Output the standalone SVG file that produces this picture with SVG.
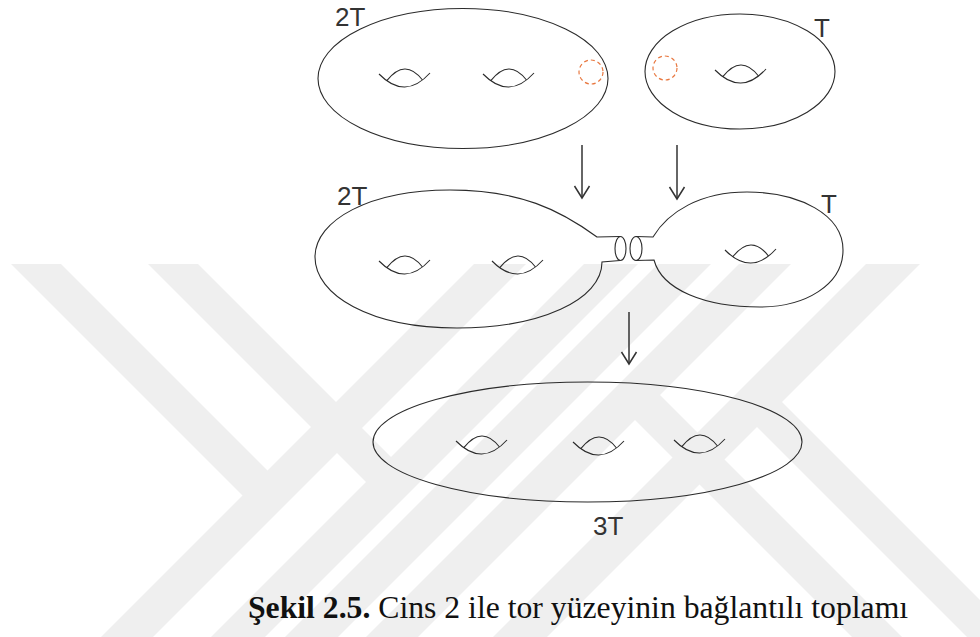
<svg xmlns="http://www.w3.org/2000/svg" xmlns:xlink="http://www.w3.org/1999/xlink" width="980" height="637" viewBox="0 0 980 637">
  <style>
    .wm { fill: #efefef; stroke: none; }
    .line { fill: none; stroke: #2b2b2b; stroke-width: 1.1; }
    .cut { fill: none; stroke: #e8773f; stroke-width: 1.2; stroke-dasharray: 4 3; }
    .arrow { fill: none; stroke: #333; stroke-width: 1.5; }
    .lbl { font-family: "Liberation Sans", Arial, sans-serif; font-size: 26px; fill: #333; }
    .cap { font-family: "Liberation Serif", "Times New Roman", serif; font-size: 31.7px; fill: #111; }
  </style>
  <defs>
    <!-- handle: lower lip with the upper arc crossing it -->
    <g id="eye" class="line">
      <path d="M0,0 Q26,26.5 51,-1"/>
      <path d="M7.8,6.7 Q26,-16.4 43.5,6"/>
    </g>
    <marker id="head" markerUnits="userSpaceOnUse" markerWidth="20" markerHeight="20" refX="0" refY="0" orient="auto" overflow="visible">
      <path d="M-12,-7.5 L0,0 L-12,7.5" fill="none" stroke="#333" stroke-width="1.5"/>
    </marker>
  </defs>

  <rect width="980" height="637" fill="#fff"/>

  <!-- background emblem made of 45-degree bands -->
  <g id="watermark" class="wm">
    <polygon points="474,264 526,264 153,637 101,637"/>
    <polygon points="584,264 638,264 265,637 211,637"/>
    <polygon points="658,264 711,264 338,637 285,637"/>
    <polygon points="739,264 791,264 418,637 366,637"/>
    <polygon points="866,264 920,264 547,637 493,637"/>
    <polygon points="11,264 61,264 280.5,483.5 255.5,508.5"/>
    <polygon points="148,264 198,264 404.5,470.5 379.5,495.5"/>
    <polygon points="647,382 902,637 852,637 622,407"/>
    <polygon points="768.5,388.5 1017,637 967,637 743.5,413.5"/>
  </g>

  <!-- genus-2 surface, top -->
  <g id="genus2-top">
    <ellipse class="line" cx="463" cy="78.5" rx="145" ry="70"/>
    <use xlink:href="#eye" x="379" y="74"/>
    <use xlink:href="#eye" x="483" y="74"/>
    <circle class="cut" cx="591" cy="72" r="12"/>
    <text class="lbl" x="335" y="25.5">2T</text>
  </g>

  <!-- torus, top -->
  <g id="torus-top">
    <ellipse class="line" cx="740" cy="71.5" rx="95" ry="57.5"/>
    <use xlink:href="#eye" x="715" y="70"/>
    <circle class="cut" cx="665" cy="68" r="12"/>
    <text class="lbl" x="814" y="37">T</text>
  </g>

  <!-- genus-2 surface with a tube pulled out -->
  <g id="genus2-neck">
    <path class="line" d="M620,236.5 L597,237 C560,210 520,190 450,190 C370,190 315,220 315,257 C315,295 370,328 457,328 C540,328 602,300 602,262 L620,260.5"/>
    <ellipse class="line" cx="620.5" cy="248.5" rx="5.5" ry="12"/>
    <use xlink:href="#eye" x="379" y="261"/>
    <use xlink:href="#eye" x="492" y="261"/>
    <text class="lbl" x="337" y="205">2T</text>
  </g>

  <!-- torus with a tube pulled out -->
  <g id="torus-neck">
    <path class="line" d="M636,236.5 L653,237 C668,212 700,192 747,192 C800,192 843,215 843,250 C843,285 805,307 760,307 C705,307 662,290 654,260 L636,260.5"/>
    <ellipse class="line" cx="636" cy="248.5" rx="6" ry="12"/>
    <use xlink:href="#eye" x="725" y="250"/>
    <text class="lbl" x="821" y="213">T</text>
  </g>

  <!-- connected sum: genus 3 -->
  <g id="genus3">
    <ellipse class="line" cx="587.5" cy="442" rx="214.5" ry="60"/>
    <use xlink:href="#eye" x="456" y="441"/>
    <use xlink:href="#eye" x="573" y="442"/>
    <use xlink:href="#eye" x="674" y="440"/>
    <text class="lbl" x="593" y="535">3T</text>
  </g>

  <g id="connectors" class="arrow">
    <line x1="582" y1="145" x2="582" y2="198" marker-end="url(#head)"/>
    <line x1="677" y1="145" x2="677" y2="199" marker-end="url(#head)"/>
    <line x1="629" y1="312" x2="629" y2="364" marker-end="url(#head)"/>
  </g>

  <text id="caption" class="cap" x="248" y="618"><tspan font-weight="bold">Şekil 2.5.</tspan> Cins 2 ile tor yüzeyinin bağlantılı toplamı</text>
</svg>
